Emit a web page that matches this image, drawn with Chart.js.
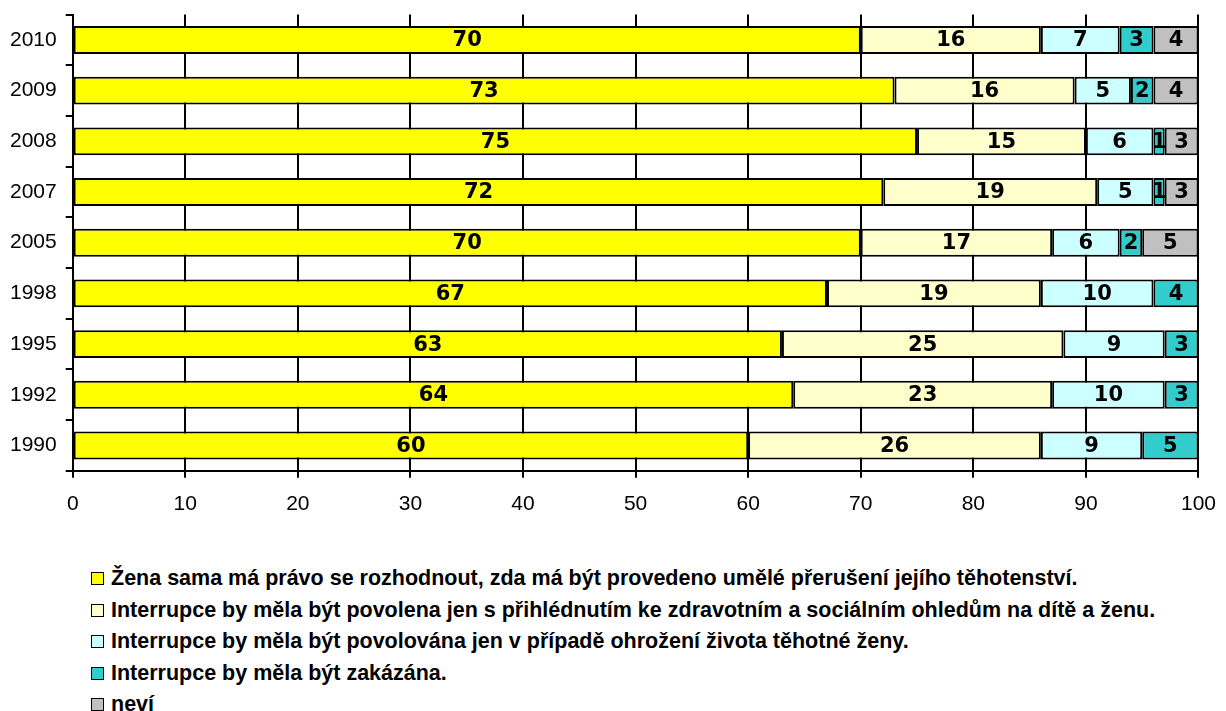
<!DOCTYPE html>
<html>
<head>
<meta charset="utf-8">
<script src="https://cdn.jsdelivr.net/npm/chart.js@4.4.1/dist/chart.umd.min.js"></script>
<style>
  html, body { margin: 0; padding: 0; background: #fff; overflow: hidden; }
  #wrap { position: absolute; left: 0; top: -7px; width: 1230px; height: 543px; }
  #legend { position: absolute; left: 91px; top: 563px; font-family: "Liberation Sans", Arial, sans-serif; font-weight: bold; font-size: 21.5px; color: #000; }
  .item { height: 31.5px; line-height: 31.5px; white-space: nowrap; }
  .box { display: inline-block; width: 11px; height: 11px; border: 1.5px solid #000; margin-right: 7px; vertical-align: 0px; }
</style>
</head>
<body>
<div id="wrap"><canvas id="chart"></canvas></div>
<div id="legend"></div>
<script>
// Categories, top to bottom
const years = ['2010', '2009', '2008', '2007', '2005', '1998', '1995', '1992', '1990'];

const labels = [
    'Žena sama má právo se rozhodnout, zda má být provedeno umělé přerušení jejího těhotenství.',
    'Interrupce by měla být povolena jen s přihlédnutím ke zdravotním a sociálním ohledům na dítě a ženu.',
    'Interrupce by měla být povolována jen v případě ohrožení života těhotné ženy.',
    'Interrupce by měla být zakázána.',
    'neví'
];

// Values (%) per answer
const sama     = [70, 73, 75, 72, 70, 67, 63, 64, 60];
const ohledy   = [16, 16, 15, 19, 17, 19, 25, 23, 26];
const ohrozeni = [7, 5, 6, 5, 6, 10, 9, 10, 9];
const zakazat  = [3, 2, 1, 1, 2, 4, 3, 3, 5];
const nevi     = [4, 4, 3, 3, 5, null, null, null, null];

const xTicks = [0, 10, 20, 30, 40, 50, 60, 70, 80, 90, 100];

const colors = ['#FFFF00', '#FFFFCC', '#CCFFFF', '#33CCCC', '#C0C0C0'];
const series = [sama, ohledy, ohrozeni, zakazat, nevi];

// Draw the value in the middle of each bar segment
const barValues = {
    id: 'barValues',
    afterDatasetsDraw(chart) {
        const ctx = chart.ctx;
        ctx.save();
        ctx.font = 'bold 21px "DejaVu Sans", Verdana, sans-serif';
        ctx.fillStyle = '#000';
        ctx.textAlign = 'center';
        ctx.textBaseline = 'middle';
        chart.data.datasets.forEach((ds, i) => {
            chart.getDatasetMeta(i).data.forEach((bar, j) => {
                const v = ds.data[j];
                if (v == null) return;
                const p = bar.getCenterPoint();
                ctx.fillText(v, p.x, p.y + 1);
            });
        });
        ctx.restore();
    }
};

const chart = new Chart(document.getElementById('chart'), {
    type: 'bar',
    data: {
        labels: years,
        datasets: series.map((d, i) => ({
            label: labels[i],
            data: d,
            backgroundColor: colors[i],
            borderColor: '#000',
            borderWidth: 2,
            borderSkipped: false,
            barPercentage: 0.55,
            categoryPercentage: 1
        }))
    },
    options: {
        indexAxis: 'y',
        responsive: true,
        maintainAspectRatio: false,
        animation: false,
        layout: { padding: { left: 1, right: 22, top: 0, bottom: 5 } },
        plugins: {
            legend: { display: false },
            tooltip: { enabled: false }
        },
        scales: {
            x: {
                stacked: true,
                min: 0,
                max: 100,
                afterBuildTicks: axis => { axis.ticks = xTicks.map(v => ({ value: v })); },
                grid: { color: '#000', lineWidth: 2, tickLength: 7 },
                border: { color: '#000', width: 2 },
                ticks: {
                    color: '#000',
                    padding: 14,
                    maxRotation: 0,
                    font: { family: '"Liberation Sans", Arial, sans-serif', size: 21 }
                }
            },
            y: {
                stacked: true,
                grid: { color: '#000', lineWidth: 2, tickLength: 7, drawOnChartArea: false },
                border: { color: '#000', width: 2 },
                ticks: {
                    color: '#000',
                    padding: 9,
                    font: { family: '"Liberation Sans", Arial, sans-serif', size: 21 }
                }
            }
        }
    },
    plugins: [barValues]
});

// Legend, one answer per line
document.getElementById('legend').innerHTML = chart.data.datasets.map(ds =>
    `<div class="item"><span class="box" style="background:${ds.backgroundColor}"></span>${ds.label}</div>`
).join('');
</script>
</body>
</html>
